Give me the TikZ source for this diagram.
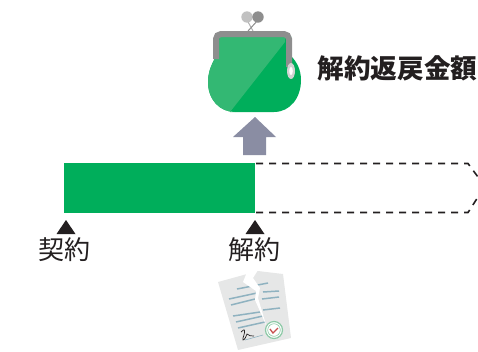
\documentclass[tikz,border=0pt]{standalone}
\usepackage{fontspec}
\newfontfamily\cjk{Noto Sans CJK JP}
\definecolor{pgreen}{HTML}{00AE5B}
\definecolor{lgreen}{HTML}{33B873}
\definecolor{pgray}{HTML}{8E8E8E}
\definecolor{arrowc}{HTML}{8A8DA3}
\definecolor{paper}{HTML}{E6E7E7}
\definecolor{lineblue}{HTML}{8FB2C0}
\definecolor{ink}{HTML}{231F20}
\definecolor{sealgreen}{HTML}{8CC9A6}
\definecolor{sealred}{HTML}{C8504F}
\tikzset{
  mark tri/.style={fill=ink,draw=none},
  doc line/.style={draw=lineblue,line width=1.5pt},
  label text/.style={font=\cjk\fontsize{26}{26}\selectfont,text=ink,inner sep=0pt},
  title text/.style={font=\cjk\bfseries\fontsize{26.6}{27}\selectfont,text=ink,inner sep=0pt},
  dash line/.style={ink,line width=1.6pt,dash pattern=on 7pt off 6pt},
}
\begin{document}
\begin{tikzpicture}[x=1pt,y=-1pt]
\useasboundingbox (0,0) rectangle (478,351);
% bar
\fill[pgreen] (64,163) rectangle (255,213);
\draw[dash line] (256,163.5) -- (468,163.5) -- (478,177);
\draw[dash line] (256,212.5) -- (468,212.5) -- (478,197);
% markers
\fill[mark tri] (66,220) -- (75.5,234) -- (56.5,234) -- cycle;
\fill[mark tri] (255,220) -- (264.5,234) -- (245.5,234) -- cycle;
\node[label text] (kei) at (64,250) {契約};
\node[label text] (kai) at (254,250) {解約};
\node[title text,anchor=west] (ttl) at (317.5,68) {解約返戻金額};
% arrow
\fill[arrowc] (255,117) -- (276,137) -- (266,137) -- (266,155) -- (243,155) -- (243,137) -- (233,137) -- cycle;
% purse clasp
\draw[pgray!70,line width=1pt] (247,20) -- (253,31);
\draw[pgray,line width=1pt] (258,20) -- (248,31);
\fill[pgray!55] (247,17) circle (5.7);
\fill[pgray] (258,17) circle (5.7);
% purse body
\fill[pgreen] (214,60) .. controls (210,68) and (208,74) .. (208,82)
  .. controls (208,100) and (220,112) .. (235,112) -- (274,112)
  .. controls (290,112) and (301,98) .. (301,80)
  .. controls (301,70) and (297,62) .. (291,56) -- (291,36) -- (214,36) -- cycle;
\fill[lgreen] (220,37) -- (285,37) -- (285,42) -- (230,112) -- (235,112)
  .. controls (220,112) and (208,100) .. (208,82)
  .. controls (208,74) and (210,68) .. (214,60) -- cycle;
\draw[pgray,line width=6pt,rounded corners=5pt] (216,59) -- (216,34) -- (289,34) -- (289,67);
\fill[pgray!40] (291,71) ellipse (4 and 8);
\fill[white] (291,71) ellipse (1.8 and 4);
% paper
\fill[paper] (218,282) -- (258,271) -- (283,274) -- (291,338) -- (238,350) -- cycle;
\draw[doc line] (237,289) -- (268,283);
\draw[doc line] (229,299) -- (257,293);
\draw[doc line] (263,292) -- (279,291);
\draw[doc line] (231,305) -- (255,299);
\draw[doc line] (262,299) -- (279,297);
\draw[doc line] (233,316) -- (260,312);
\draw[doc line] (263,310) -- (280,308);
\draw[doc line] (236,322) -- (263,316);
\draw[doc line] (238,328) -- (265,322);
\fill[white] (247,272) -- (243,282) -- (256,291) -- (255,300) -- (263,318) -- (267,328) -- (258,298) -- (260,288) -- (253,278) -- (258,270) -- cycle;
\draw[lineblue,line width=.6pt] (245,340) -- (263,335);
\draw[ink,line width=.7pt] (241,332) .. controls (245,328) and (246,329) .. (243,338) .. controls (242,342) and (245,340) .. (247,334) .. controls (249,337) and (251,335) .. (254,336);
\fill[white] (274,330) circle (8.5);
\draw[sealgreen,line width=1.2pt] (274,330) circle (8.5);
\draw[sealgreen,line width=.6pt] (274,330) circle (6.3);
\draw[sealred,line width=1.3pt] (270,329) -- (273,333) -- (278,328);
\end{tikzpicture}
\end{document}
